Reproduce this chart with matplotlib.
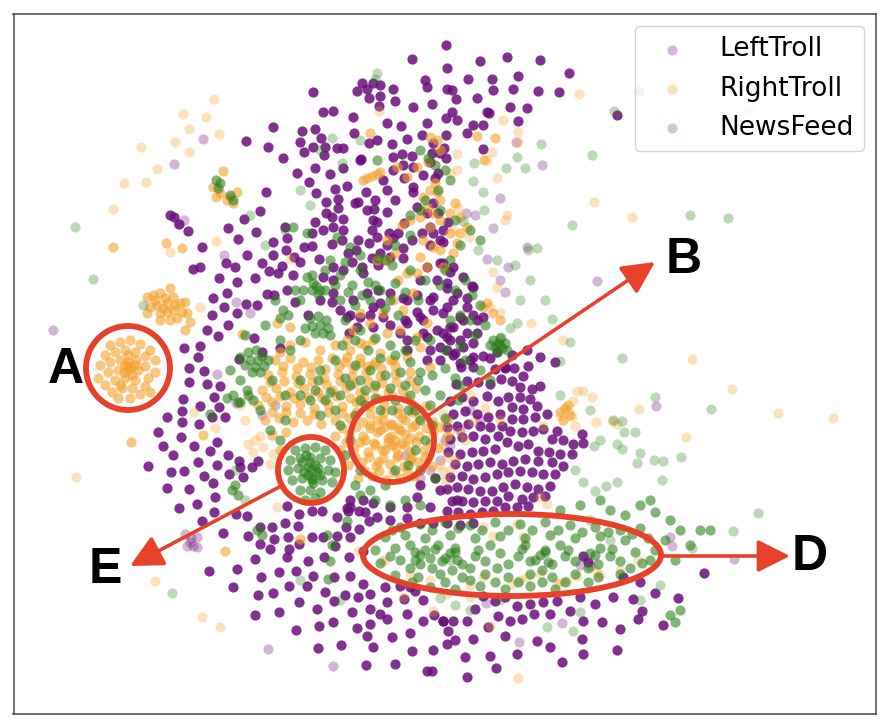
import matplotlib
matplotlib.use("Agg")
import matplotlib.pyplot as plt
from matplotlib.patches import Ellipse
from matplotlib.patches import ArrowStyle

# ---------------- data (embedding coordinates) ----------------
series_names = ["LeftTroll", "RightTroll", "NewsFeed"]
series_colors = ["#6a0e7a", "#f3a02a", "#2a7d19"]

left_solid = [
    (446,45),(447,68),(412,59),(362,83),(367,89),(373,83),(380,85),(357,91),(380,96),(369,98),(393,89),(395,101),
    (425,80),(427,87),(413,107),(432,104),(379,106),(353,117),(323,112),(333,111),(387,123),(313,92),(273,127),
    (480,61),(507,57),(540,60),(569,73),(492,79),(518,76),(468,79),(452,90),(493,90),(513,89),(538,91),(559,92),
    (456,99),(477,98),(510,107),(527,108),(452,112),(489,113),(446,118),(457,120),(483,125),(518,121),(617,115),
    (401,126),(427,123),(447,89),(473,125),(487,112),
    (369,143),(377,140),(392,144),(354,133),(360,160),(302,131),(315,129),(246,141),(268,147),(283,158),(300,142),
    (313,147),(321,138),(325,147),(304,152),(324,155),(337,148),(343,148),(297,173),(315,168),(330,174),(309,182),
    (343,168),(335,189),(347,186),(366,192),(358,202),(316,193),(338,208),(326,202),(326,213),(343,219),(333,227),
    (387,190),(375,200),(374,209),(387,212),(395,200),(402,154),(412,156),(393,170),(404,178),(413,192),(422,135),
    (433,143),(432,153),(446,135),(444,148),(446,158),(438,173),(467,133),(483,149),(407,139),(361,159),(266,192),
    (260,211),(244,219),(228,228),(256,232),(170,215),(174,217),(179,224),(188,231),(417,207),(427,213),(433,203),
    (438,213),(393,157),(403,165),(413,167),(430,162),(440,153),(435,178),(383,180),(373,220),(355,203),(367,210),
    (377,222),(413,187),(423,175),(332,217),(343,230),(338,199),
    (238,239),(202,247),(247,255),(193,269),(200,267),(219,278),(226,263),(235,267),(262,263),(273,242),(287,238),
    (286,250),(273,255),(282,266),(294,257),(304,247),(312,246),(300,262),(293,275),(278,273),(269,271),(255,278),
    (237,282),(227,293),(213,298),(237,313),(224,307),(212,315),(228,325),(246,304),(257,305),(267,294),(274,295),
    (287,290),(295,302),(207,330),(218,336),(200,346),(184,348),(254,338),(239,359),(262,352),(280,348),(308,315),
    (320,300),(333,293),(332,302),(333,280),(323,277),(333,267),(319,259),(332,244),(342,240),(348,253),(356,250),
    (362,267),(369,243),(372,230),(377,237),(378,265),(380,253),(389,233),(398,233),(404,223),(403,248),(403,258),
    (390,257),(387,245),(430,227),(433,233),(430,245),(443,230),(443,242),(340,310),(350,315),(357,327),(349,333),
    (378,290),(373,307),(370,315),(383,317),(407,300),(405,320),(417,312),(423,320),(430,300),(433,310),(443,313),
    (427,337),(407,340),(443,333),(447,350),(407,350),(198,357),(285,227),(312,233),(323,230),(315,222),
    (358,240),(352,262),(343,270),(363,273),(372,258),(393,238),(412,240),(422,233),(440,240),(448,222),
    (450,272),(440,263),(427,267),(420,280),(437,280),(447,288),(433,297),(417,295),(403,298),(390,293),(380,303),
    (367,293),(353,300),(347,317),(360,317),(373,327),(390,325),(407,323),(420,317),(453,300),(467,307),(477,320),
    (463,320),(450,327),(437,330),(423,333),(400,333),(467,333),(473,343),(483,356),(463,347),(450,340),(440,347),
    (430,350),(453,355),(473,357),(460,363),(440,360),(427,360),
    (443,263),(453,267),(463,277),(473,287),(447,283),(457,293),(467,298),(447,307),(460,317),(473,315),(483,317),
    (453,327),(477,333),(447,337),(460,340),(490,358),(470,360),(455,353),(472,286),
    (497,352),(512,355),(527,350),(540,357),(555,362),(505,368),
    (189,368),(204,371),(189,382),(207,384),(220,386),(183,399),(200,406),(214,397),(219,407),(167,417),(182,411),
    (182,422),(199,424),(212,417),(225,417),(158,432),(181,437),(194,446),(210,451),(217,442),(163,446),(173,455),
    (198,462),(217,465),(228,455),(239,461),(148,466),(171,472),(184,471),(204,476),(213,483),(229,474),(240,467),
    (252,467),(167,488),(189,489),(215,497),(243,477),(258,461),(179,508),(197,504),(214,512),(236,514),(247,516),
    (202,521),(223,533),(248,536),(260,527),(272,527),(285,523),(298,526),(287,506),(299,514),(312,511),(322,511),
    (337,517),(347,508),(359,511),(369,521),(359,529),(350,537),(337,536),(323,537),(312,537),(299,544),(288,537),
    (274,539),(260,544),(255,559),(270,549),(287,557),(308,561),(324,557),(335,546),(349,557),(363,551),(209,571),
    (237,569),(261,577),(279,572),(296,571),(313,576),(334,577),(350,576),(363,584),(233,587),(258,595),(273,593),
    (289,586),(307,586),(325,592),(334,601),(345,595),(358,597),(370,594),(385,587),(387,602),(400,586),(410,587),
    (255,615),(299,602),(319,626),(333,622),(352,612),(370,609),(380,614),(370,624),(357,628),(367,636),(392,637),
    (410,633),(423,621),(423,600),(443,621),(434,615),(296,630),(318,648),(341,645),(373,647),(412,651),(433,650),
    (366,665),(395,664),(427,671),(432,671),(447,644),(448,631),(348,511),(407,614),(289,549),(415,591),(317,609),
    (387,619),(346,527),(279,612),(404,599),
    (461,367),(473,367),(495,369),(505,367),(514,368),(528,366),(523,376),
    (456,384),(467,381),(478,382),(490,384),(501,379),(512,381),(520,387),(532,389),(540,386),(530,399),(520,397),
    (508,397),(498,401),(487,396),(473,401),(462,397),(450,401),(453,414),(465,411),(477,414),(488,417),(500,414),
    (512,407),(523,409),(537,406),(547,414),(535,417),(523,419),(512,419),(502,426),(490,427),(480,426),(468,424),
    (457,426),(447,427),(450,439),(462,437),(473,436),(485,439),(498,436),(510,431),(522,432),(533,431),(543,429),
    (557,431),(552,439),(563,440),(573,444),(582,434),(583,443),(572,454),(560,454),(549,452),(538,451),(528,444),
    (518,446),(507,442),(495,449),(483,451),(472,452),(460,454),(448,452),(455,464),(467,466),(478,464),(490,462),
    (502,464),(513,461),(525,459),(538,461),(552,462),(563,466),(555,474),(543,474),(532,472),(520,471),(508,472),
    (497,474),(485,477),(473,479),(462,476),(450,477),(447,489),(457,487),(468,489),(480,491),(492,491),(503,487),
    (515,484),(527,487),(538,489),(550,486),(545,496),(533,497),(522,499),(508,496),(497,501),(485,501),(473,502),
    (462,501),(452,501),(447,511),(458,512),(470,514),(482,512),(493,511),(505,507),(517,507),(528,506),
    (350,507),(365,512),(377,517),(390,520),(407,518),(420,523),(433,523),(447,523),(460,525),(473,523),
    (440,490),(457,500),(417,497),(430,507),(407,507),(390,507),(373,503),(363,500),(350,500),(435,478),(420,485),
    (443,621),(453,621),(467,621),(475,609),(483,596),(495,601),(505,597),(517,606),(530,604),(543,602),(557,601),
    (570,611),(580,597),(595,604),(613,597),(633,599),(655,593),(678,598),(640,582),(623,577),(642,611),(638,619),
    (620,629),(602,622),(583,621),(550,614),(534,614),(522,619),(510,621),(498,616),(488,627),(473,639),
    (455,640),(505,636),(537,641),(550,647),(582,639),(583,654),(617,650),(663,625),(517,654),(490,656),(465,657),
    (496,668),(467,677),(562,662),(704,573),(583,556),(588,562),
]

left_faint = [
    (203,139),(174,164),(53,330),(542,165),(500,198),(493,228),(527,247),(597,281),(516,142),(487,259),(508,267),
    (475,215),(466,213),(268,649),(333,666),(217,374),(236,403),(185,534),(190,542),(197,537),(187,546),(193,546),
    (197,547),(191,538),(519,642),(486,603),(656,406),(670,537),(672,546),(580,565),(590,566),(224,255),(236,302),
    (250,313),(405,455),(430,470),(440,460),(450,445),(420,478),(734,559),(562,623),(178,224),(184,220),
    (470,410),(480,420),(460,430),(445,440),(500,280),(505,292),(275,405),(262,415),
]

right_mid = [
    (110,345),(120,342),(130,340),(140,344),(150,350),(105,355),(115,352),(125,350),(135,352),(145,356),(155,360),
    (100,365),(110,362),(120,360),(128,362),(136,360),(145,366),(155,372),(98,378),(108,372),(118,370),(128,370),
    (138,370),(148,378),(105,385),(115,380),(125,378),(135,380),(145,386),(112,392),(122,388),(132,388),(140,394),
    (118,398),(130,398),(128,355),(125,365),(132,375),(120,385),(135,365),(150,392),(128,366),(124,372),(131,368),
    (147,297),(153,295),(160,293),(170,288),(173,297),(167,303),(157,305),(150,307),(160,313),(167,312),(180,303),
    (185,302),(187,313),(182,312),(177,318),(147,313),(173,310),(163,308),(190,322),(185,330),(155,300),(165,298),
    (170,320),(160,320),(175,305),
    (113,247),(166,243),(182,248),(223,171),(131,442),(225,551),(300,539),(242,334),(370,133),(484,160),(495,138),
    (477,136),(213,187),(220,193),(230,197),(237,192),(233,203),(227,200),(216,197),
    (367,178),(372,176),(377,174),(380,172),(363,180),
    (430,137),(437,140),(440,150),(428,162),(435,183),(430,190),(437,192),(423,197),(440,200),(427,207),(433,213),
    (420,217),(440,220),(430,227),(423,240),(433,247),(440,250),(420,257),(427,267),(417,273),(443,267),(453,253),
    (457,243),(450,233),(460,233),(467,227),(460,217),(450,213),(455,203),(407,177),(397,167),(417,167),(410,220),
    (402,225),(387,240),(395,253),(387,260),(377,260),(407,273),(398,280),(413,293),(393,300),(403,310),(383,313),
    (360,313),(370,323),(353,330),(347,340),(360,343),(373,340),(387,333),(400,330),(417,337),(427,323),(380,353),
    (393,360),(407,357),(420,347),(430,367),(347,357),(360,363),(373,365),(487,303),(483,307),(493,313),(500,320),
    (290,327),(277,323),
    (290,345),(305,342),(335,345),(350,350),(365,345),(320,350),(280,352),
    (275,360),(290,358),(303,362),(318,360),(332,358),(345,362),(360,358),(375,362),(390,360),
    (268,375),(282,372),(296,376),(310,374),(324,378),(338,374),(352,376),(366,372),(380,376),(395,374),(410,372),
    (262,390),(276,388),(290,392),(304,388),(318,392),(332,390),(346,388),(360,392),(374,388),(388,392),(402,390),
    (416,388),(258,405),(272,402),(286,406),(300,404),(314,408),(328,404),(342,406),(356,402),(370,406),(384,404),
    (398,408),(412,404),(426,406),(265,420),(279,418),(293,422),(307,420),(321,424),(335,420),(349,418),(363,422),
    (377,420),(391,424),(405,420),(419,418),(433,422),(447,420),(272,435),(286,432),(335,436),(349,434),(363,436),
    (377,432),(391,436),(405,434),(419,436),(433,432),(447,436),(280,450),(340,450),(354,448),(368,452),(382,450),
    (396,448),(410,452),(424,450),(438,448),(348,465),(362,462),(376,466),(390,464),(404,466),(418,462),(432,466),
    (358,478),(372,476),(386,480),(400,478),(414,476),
    (283,366),(297,368),(311,367),(325,369),(339,366),(353,368),(367,366),(381,368),(395,366),
    (270,382),(284,381),(298,383),(312,382),(326,384),(340,381),(354,383),(368,381),(382,383),(396,382),(410,381),
    (266,397),(280,396),(294,398),(308,397),(322,398),(336,396),(350,398),(364,397),(378,398),(392,396),(406,398),
    (272,412),(286,412),(300,413),(314,414),(328,412),(342,413),(356,412),(370,414),(384,412),(398,413),(412,412),
    (342,428),(356,427),(370,428),(384,427),(398,428),(412,427),(426,428),(440,427),
    (346,442),(360,442),(374,443),(388,442),(402,443),(416,442),(430,443),(355,457),(369,457),(383,458),(397,457),
    (411,458),(425,457),(365,471),(379,471),(393,472),(407,471),
    (380,430),(395,440),(405,445),(385,450),(375,445),(392,425),(400,430),(410,438),(388,438),(398,455),(378,462),
    (410,460),(365,440),(370,425),(415,425),(392,445),(383,420),(402,418),
    (560,412),(565,408),(570,415),(563,420),(568,405),(203,435),
]

right_faint = [
    (214,99),(183,114),(206,117),(189,129),(219,134),(175,142),(189,152),(141,147),(157,169),(146,182),(124,183),
    (113,209),(200,307),(170,252),(379,111),(290,259),(76,477),(155,581),(202,617),(220,627),(732,389),(778,413),
    (833,418),(686,437),(639,409),(596,422),(518,678),(638,560),(749,110),(632,217),(594,202),(579,94),(503,120),
    (518,132),(518,142),(492,152),(487,160),(457,154),(450,173),(457,170),(497,178),(507,215),(505,220),(469,237),
    (453,230),(458,208),(692,359),(531,323),(563,340),(493,272),(497,287),(490,307),(500,313),(216,241),
    (194,412),(215,428),(248,444),(253,452),(263,447),(260,436),(270,464),(273,454),(277,507),(358,551),(382,561),
    (403,597),(433,611),(447,594),(577,576),(567,581),(557,584),(540,574),(527,577),(512,584),(483,577),(470,597),
    (490,626),(577,391),(583,391),(573,401),(560,416),(568,411),(572,417),(575,426),(543,426),(540,497),(547,504),
    (483,527),(493,536),(517,524),(523,537),(597,572),(592,397),(613,421),(617,424),
    (430,455),(440,465),(450,470),(445,480),(455,460),(443,414),(450,431),(443,444),(447,457),(442,471),(460,432),
    (473,422),(400,528),(430,580),(470,585),(520,580),(560,582),(600,575),(620,570),(385,560),(410,575),
    (240,405),(250,398),(245,420),(255,440),(470,395),(485,408),(500,420),(465,440),
]

news_mid = [
    (377,160),(220,183),(216,180),(230,195),(233,200),(218,188),
    (295,450),(305,448),(315,447),(325,450),(290,460),(300,458),(310,457),(320,458),(330,460),(288,470),(298,468),
    (308,467),(318,468),(328,470),(335,472),(292,480),(302,478),(312,478),(322,480),(332,482),(300,490),(310,490),
    (320,492),(305,500),(315,498),(311,470),(308,475),(315,465),(302,462),(320,475),(313,483),(306,455),
    (304,472),(317,472),(310,462),(312,480),
    (248,352),(256,350),(262,356),(250,360),(258,360),(245,365),(255,367),(264,366),(252,372),(260,372),(240,357),
    (268,360),(310,318),(318,316),(326,320),(312,326),(320,325),(328,328),(315,333),(323,333),(305,328),
    (283,310),(288,315),(280,318),(312,290),(318,294),(325,290),(316,286),
    (493,340),(500,338),(505,343),(495,347),(502,348),(498,343),(490,345),(507,350),(497,352),(500,345),
    (330,260),(345,262),(360,270),(352,285),(368,282),(380,290),(395,283),(340,300),(355,305),(370,300),(385,308),
    (398,315),(345,320),(360,330),(375,338),(390,345),(405,350),(415,340),(430,340),(300,340),(290,350),(280,340),
    (272,380),(285,395),(300,380),(315,390),(325,400),(340,395),(350,385),(365,390),(335,410),(320,415),(340,425),
    (355,415),(365,405),(380,410),(395,400),(410,395),(425,390),(440,395),(430,405),(415,410),(350,440),(345,455),
    (425,440),(415,450),(408,465),(420,470),(435,478),(395,470),(385,485),(370,490),(355,485),(360,470),(270,430),
    (280,440),(285,420),(260,410),(248,395),(240,380),(230,370),(245,335),(265,325),(275,300),(295,290),(300,300),
    (312,275),(325,270),(340,275),(360,255),(378,258),(392,265),(410,270),(425,280),(440,285),(455,290),(465,280),
    (472,295),(480,305),(460,315),(470,320),(485,325),(475,335),(460,345),(445,350),(465,360),(480,370),(490,380),
    (450,320),(420,150),(428,158),(435,165),(445,170),(450,180),(438,190),(425,200),(420,210),(410,215),(440,210),
    (455,220),(470,230),(480,240),(460,245),(450,260),(445,270),(410,235),(395,245),(385,260),
    (307,277),(313,283),(320,290),(303,290),(337,237),(350,247),(293,227),(307,233),
    (335,285),(348,292),(362,295),(375,285),(390,300),(405,292),(418,300),(330,335),(342,345),(355,340),(368,350),
    (380,358),(395,355),(410,362),(420,372),(400,372),(385,375),(370,370),(355,365),(335,360),(320,370),(345,378),
    (360,380),(375,385),(390,388),(405,385),(418,380),(432,375),(445,368),(455,378),(330,392),(310,400),(318,380),
    (300,395),(360,400),(375,398),(392,410),(408,410),(420,420),(432,425),(445,418),(458,400),(460,385),
    (227,398),(233,395),(240,402),(247,390),(253,400),(232,490),(238,495),(235,485),(257,530),(262,535),(327,535),
    (332,545),(330,561),(328,579),(347,521),(360,495),(375,500),(390,505),(405,500),(420,505),(210,414),(238,402),
    (400,527),(420,524),(445,522),(470,525),(495,522),(520,524),(545,522),(570,525),(595,527),(620,530),(640,528),
    (385,537),(405,535),(425,538),(450,535),(475,538),(500,536),(525,538),(550,535),(575,538),(600,536),(625,540),
    (648,538),(375,550),(395,548),(415,552),(435,549),(455,552),(478,550),(500,553),(522,549),(545,552),(568,550),
    (590,553),(612,549),(635,552),(655,550),(380,563),(400,560),(420,564),(442,561),(462,564),(485,561),(508,564),
    (530,561),(552,564),(575,561),(598,564),(620,561),(642,563),(395,575),(418,577),(440,574),(462,577),(485,574),
    (508,577),(530,574),(552,577),(575,574),(598,577),(620,574),(430,587),(455,589),(480,586),(505,589),(530,586),
    (555,589),(420,555),(425,550),(415,560),(430,558),(450,553),(455,548),(445,558),(457,560),(540,555),(545,550),
    (535,560),(548,562),(595,555),(600,548),(410,545),(438,545),(525,545),(560,545),(490,545),(470,568),
    (392,530),(432,530),(458,528),(482,530),(508,530),(532,530),(558,530),(582,532),(608,532),(632,534),
    (390,556),(410,568),(432,568),(452,570),(475,556),(497,568),(518,556),(542,570),(565,556),(588,568),(610,556),
    (630,568),(650,560),(412,582),(445,582),(470,580),(495,582),(518,582),(542,582),(565,582),(588,582),
    (610,510),(625,515),(640,505),(655,512),(670,520),(680,530),(665,540),(675,560),(690,545),(700,530),(650,500),
    (600,500),(580,505),(560,510),(670,615),(675,622),(680,610),(710,530),
]

news_faint = [
    (75,227),(93,279),(172,593),(655,397),(711,409),(758,513),(733,531),(692,548),(681,457),(662,480),(640,453),
    (637,463),(654,460),(663,461),(617,482),(606,486),(595,491),(583,482),(594,446),(624,432),(635,432),(617,444),
    (622,421),(613,420),(622,449),(639,91),(614,111),(541,144),(592,155),(525,168),(517,157),(506,168),(474,163),
    (473,181),(483,192),(484,210),(463,221),(572,225),(690,215),(728,218),(537,248),(528,250),(497,260),(478,250),
    (552,319),(570,342),(560,361),(622,358),(517,323),(510,328),(501,337),(377,73),(375,79),(332,138),(342,163),
    (143,305),(573,631),(547,627),(580,612),(455,605),(440,598),(470,610),(500,600),(450,560),(320,150),(300,190),
    (285,230),(265,245),(250,215),(360,140),(310,205),(235,470),(245,500),(340,600),(300,580),(520,300),(530,280),
    (545,300),(515,265),(560,395),(590,410),(600,440),(575,470),(590,520),(610,540),(660,585),(640,600),
]

# annotation overlays: (label, marker centre x, y, width, height)
marks = [("A", 128, 368, 84, 84), ("B", 392, 440, 84, 84), ("E", 311, 470, 66, 66), ("D", 512, 555, 298, 82)]
arrows = [((426, 417), (655, 262)), ((283, 485), (130, 566)), ((661, 556), (790, 556))]
letters = [("A", 66, 370), ("B", 684, 260), ("D", 810, 557), ("E", 105, 570)]

# ---------------- drawing ----------------
fig = plt.figure(figsize=(8.9, 7.28), dpi=100)
W, H = 890, 728
x0, x1, y0, y1 = 13.5, 876, 14, 714
ax = fig.add_axes([x0 / W, (H - y1) / H, (x1 - x0) / W, (y1 - y0) / H])
ax.set_xlim(x0, x1)
ax.set_ylim(y1, y0)
ax.set_xticks([])
ax.set_yticks([])
for sp in ax.spines.values():
    sp.set_color("#555555")
    sp.set_linewidth(1.2)

S = 54

def draw(points, color, alpha, label=None):
    xs = [p[0] for p in points]
    ys = [p[1] for p in points]
    ax.scatter(xs, ys, s=S, c=color, alpha=alpha, linewidths=0, label=label)

draw(left_faint, series_colors[0], 0.3, series_names[0])
draw(left_solid, series_colors[0], 0.85)
draw(right_faint, series_colors[1], 0.3, series_names[1])
draw(right_mid, series_colors[1], 0.6)
draw(news_faint, series_colors[2], 0.3, series_names[2])
draw(news_mid, series_colors[2], 0.58)

red = "#e8412a"
for name, cx, cy, w, h in marks:
    ax.add_patch(Ellipse((cx, cy), w, h, fill=False, edgecolor=red, linewidth=4.2, zorder=5))
style = ArrowStyle("-|>", head_length=0.9, head_width=0.45)
for start, end in arrows:
    ax.annotate("", xy=end, xytext=start,
                arrowprops=dict(arrowstyle=style, color=red, lw=2.6, mutation_scale=22,
                                shrinkA=0, shrinkB=0), zorder=6)
for t, lx, ly in letters:
    ax.text(lx, ly, t, fontsize=36, fontweight="bold", family="Liberation Sans",
            ha="center", va="center", color="black", zorder=7)

leg = ax.legend(loc="upper right", fontsize=19, markerscale=1.0, scatterpoints=1,
                borderaxespad=0.45)

fig.savefig("out.png", dpi=100)
